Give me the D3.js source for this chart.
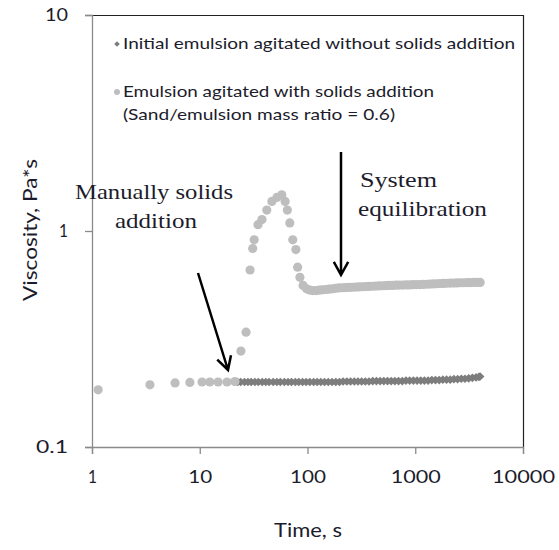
<!DOCTYPE html>
<html><head><meta charset="utf-8">
<script src="https://cdn.jsdelivr.net/npm/d3@7"></script>
<style>body{margin:0;background:#fff}svg{display:block}</style>
</head><body>
<svg id="c" width="559" height="550"></svg>
<script>
// ---- data ----
const xTicks = [1, 10, 100, 1000, 10000];
const yTicks = [0.1, 1, 10];
const xTickLabels = ["1", "10", "100", "1000", "10000"];
const yTickLabels = ["0.1", "1", "10"];
const seriesNames = ["Initial emulsion agitated without solids addition",
  "Emulsion agitated with solids addition", "(Sand/emulsion mass ratio = 0.6)"];

// Series 1: initial emulsion, no solids (dark diamonds)
const s1Time = [21, 22.5, 24, 26, 28, 30, 32.5, 35, 38, 41, 44, 48, 52, 56, 61, 66, 71, 77, 83, 90, 97, 105, 114, 123, 133, 144, 156, 169, 183, 198, 214, 232, 251, 272, 294, 318, 344, 372, 403, 436, 472, 511, 553, 598, 647, 700, 758, 820, 887, 960, 1039, 1124, 1216, 1316, 1424, 1541, 1667, 1804, 1952, 2112, 2285, 2473, 2676, 2895, 3133, 3390, 3668, 3900, 4000];
const s1Visc = [0.200, 0.200, 0.200, 0.200, 0.200, 0.200, 0.200, 0.200, 0.200, 0.200, 0.200, 0.200, 0.200, 0.200, 0.200, 0.200, 0.200, 0.200, 0.200, 0.200, 0.200, 0.200, 0.200, 0.200, 0.200, 0.200, 0.200, 0.200, 0.200, 0.200, 0.201, 0.201, 0.201, 0.201, 0.201, 0.201, 0.201, 0.201, 0.202, 0.202, 0.202, 0.202, 0.202, 0.202, 0.202, 0.202, 0.202, 0.203, 0.203, 0.203, 0.203, 0.203, 0.203, 0.203, 0.204, 0.204, 0.204, 0.205, 0.205, 0.205, 0.206, 0.206, 0.207, 0.207, 0.208, 0.209, 0.210, 0.211, 0.212];

// Series 2: emulsion with solids addition (light circles)
const s2Time = [1.14, 3.45, 5.9, 8.1, 10.5, 12.4, 14.8, 17.9, 21.2, 24.1, 26.9, 29.3, 31, 32, 34.7, 37.8, 41.9, 46.7, 52, 57.7, 62, 65, 68.5, 73, 78, 81, 85, 91, 98, 105, 112, 120, 128, 137, 147, 158, 170, 182, 195, 210, 225, 242, 260, 280, 300, 322, 346, 372, 400, 430, 462, 497, 534, 574, 617, 663, 713, 766, 824, 886, 952, 1023, 1100, 1183, 1272, 1367, 1470, 1580, 1700, 1827, 1964, 2112, 2270, 2441, 2624, 2821, 3033, 3260, 3505, 3768, 4000];
const s2Visc = [0.184, 0.194, 0.198, 0.199, 0.200, 0.200, 0.200, 0.200, 0.201, 0.278, 0.340, 0.660, 0.830, 0.910, 1.070, 1.130, 1.250, 1.370, 1.430, 1.470, 1.370, 1.250, 1.090, 0.910, 0.820, 0.680, 0.610, 0.560, 0.540, 0.533, 0.530, 0.530, 0.532, 0.534, 0.536, 0.538, 0.540, 0.543, 0.545, 0.546, 0.547, 0.548, 0.549, 0.550, 0.551, 0.552, 0.553, 0.554, 0.555, 0.556, 0.557, 0.558, 0.559, 0.560, 0.560, 0.561, 0.562, 0.562, 0.563, 0.563, 0.564, 0.565, 0.565, 0.566, 0.567, 0.568, 0.569, 0.570, 0.571, 0.572, 0.573, 0.574, 0.574, 0.575, 0.576, 0.576, 0.577, 0.577, 0.578, 0.578, 0.578];

// ---- layout ----
const svg = d3.select("#c");
const L = 92, R = 523, T = 15, B = 447;
const x = d3.scaleLog().domain([1, 10000]).range([L, R]);
const y = d3.scaleLog().domain([0.1, 10]).range([B, T]);
const sans = "Lato, 'Open Sans', sans-serif";
const serif = "'Liberation Serif', 'DejaVu Serif', serif";
const txt = "#1c1c2c";

// frame (top/right)
svg.append("path").attr("d", `M${L},${T + 0.5}H${R + 0.5}V${B}`)
  .attr("fill", "none").attr("stroke", "#222").attr("stroke-width", 1.2);

// axes
const xAxis = svg.append("g").attr("transform", `translate(0,${B})`)
  .call(d3.axisBottom(x).tickValues(xTicks).tickSize(7).tickFormat((d, i) => xTickLabels[i]));
const yAxis = svg.append("g").attr("transform", `translate(${L},0)`)
  .call(d3.axisLeft(y).tickValues(yTicks).tickSize(7).tickFormat((d, i) => yTickLabels[i]));
[xAxis, yAxis].forEach(g => {
  g.select(".domain").attr("stroke", "#8a8a8a").attr("stroke-width", 1.3);
  g.selectAll(".tick line").attr("stroke", "#8a8a8a").attr("stroke-width", 1.3);
  g.selectAll("text").attr("fill", txt).style("font-family", sans).style("font-size", "17px");
});
const xLabW = [9, 24, 36, 50, 63];
xAxis.selectAll(".tick text").attr("dy", null).attr("y", 36)
  .attr("textLength", (d, i) => xLabW[i]).attr("lengthAdjust", "spacingAndGlyphs");
const yLabW = [32, 9, 23];
yAxis.selectAll(".tick text").attr("x", -24).attr("dy", "0.35em")
  .attr("textLength", (d, i) => yLabW[i]).attr("lengthAdjust", "spacingAndGlyphs");

// axis titles
svg.append("text").attr("x", 308).attr("y", 537).attr("text-anchor", "middle")
  .attr("fill", txt).style("font-family", sans).style("font-size", "20px")
  .attr("textLength", 68).attr("lengthAdjust", "spacingAndGlyphs").text("Time, s");
svg.append("text").attr("transform", "translate(37,230) rotate(-90)").attr("text-anchor", "middle")
  .attr("fill", txt).style("font-family", sans).style("font-size", "20px")
  .attr("textLength", 142).attr("lengthAdjust", "spacingAndGlyphs").text("Viscosity, Pa*s");

// series 1 (diamonds)
const s1 = s1Time.map((t, i) => [t, s1Visc[i]]);
svg.append("g").selectAll("path").data(s1).join("path")
  .attr("d", d3.symbol(d3.symbolDiamond2, 48))
  .attr("transform", d => `translate(${x(d[0])},${y(d[1])})`)
  .attr("fill", "#7d7d7d");

// series 2 (circles)
const s2 = s2Time.map((t, i) => [t, s2Visc[i]]);
svg.append("g").selectAll("circle").data(s2).join("circle")
  .attr("cx", d => x(d[0])).attr("cy", d => y(d[1])).attr("r", 4.6)
  .attr("fill", "#bebebe");

// legend
svg.append("path").attr("d", d3.symbol(d3.symbolDiamond2, 20)).attr("transform", "translate(117,44)").attr("fill", "#7d7d7d");
svg.append("circle").attr("cx", 117).attr("cy", 92).attr("r", 3).attr("fill", "#bebebe");
const legW = [392, 311, 272];
const legY = [49, 97, 120];
seriesNames.forEach((s, i) => {
  svg.append("text").attr("x", 123).attr("y", legY[i]).attr("fill", txt)
    .style("font-family", sans).style("font-size", "15px")
    .attr("textLength", legW[i]).attr("lengthAdjust", "spacingAndGlyphs").text(s);
});

// annotations
const ann = [
  {t: "Manually solids", x: 75, y: 199, w: 158},
  {t: "addition", x: 115, y: 228, w: 82},
  {t: "System", x: 360, y: 187, w: 77},
  {t: "equilibration", x: 358, y: 216, w: 129}
];
ann.forEach(a => svg.append("text").attr("x", a.x).attr("y", a.y).attr("fill", txt)
  .style("font-family", serif).style("font-size", "21px")
  .attr("textLength", a.w).attr("lengthAdjust", "spacingAndGlyphs").text(a.t));

// arrows
function arrow(x1, y1, x2, y2) {
  const ang = Math.atan2(y2 - y1, x2 - x1), h = 15, s = 0.5;
  const a1 = ang + Math.PI - s, a2 = ang + Math.PI + s;
  svg.append("path").attr("fill", "none").attr("stroke", "#000").attr("stroke-width", 2.5)
    .attr("d", `M${x1},${y1}L${x2},${y2}M${x2 + h * Math.cos(a1)},${y2 + h * Math.sin(a1)}L${x2},${y2}L${x2 + h * Math.cos(a2)},${y2 + h * Math.sin(a2)}`);
}
arrow(198, 273, 228, 370);
arrow(341, 152, 341, 275);
</script>
</body></html>
